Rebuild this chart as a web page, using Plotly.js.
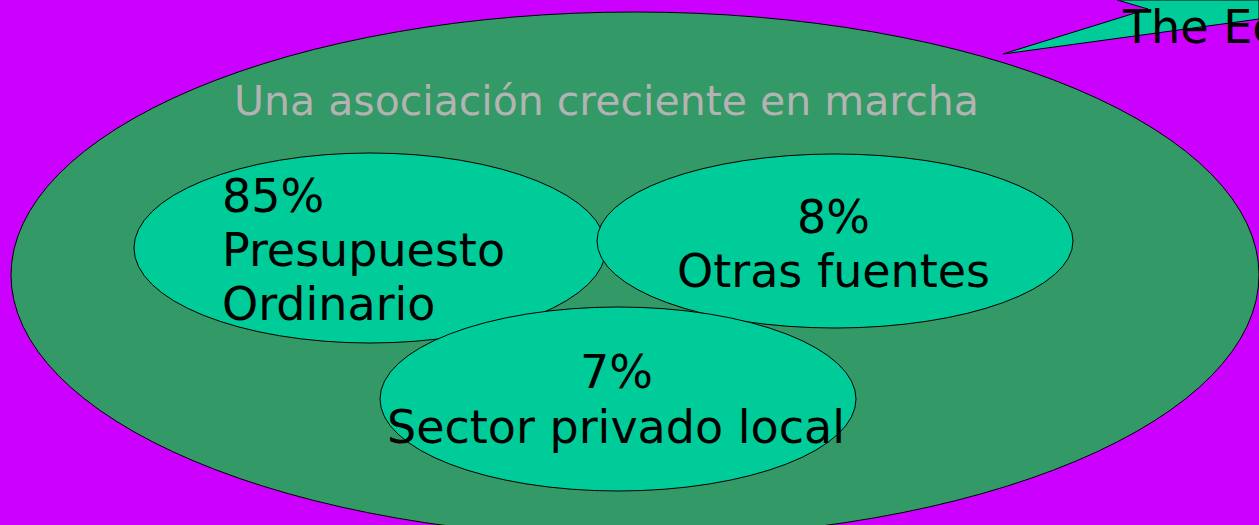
<!DOCTYPE html>
<html>
<head>
<meta charset="utf-8">
<script src="https://cdn.plot.ly/plotly-3.0.1.min.js"></script>
<style>
  html, body { margin: 0; padding: 0; background: #cc00ff; overflow: hidden; }
  #chart { width: 1259px; height: 525px; }
</style>
</head>
<body>
<div id="chart"></div>
<script>
// ---- content (values and texts) ----
const titleText = "Una asociación creciente en marcha";
const shares = [85, 8, 7];                       // percentages
const sourceLines = [
  ["Presupuesto", "Ordinario"],
  ["Otras fuentes"],
  ["Sector privado local"]
];
const calloutText = "The Ec";

// ---- layout geometry (pixel coordinates on a 1259x525 canvas, y down) ----
const W = 1259, H = 525;
const outer = { cx: 635, cy: 275, rx: 624, ry: 263 };
const bubbles = [
  { cx: 370, cy: 248, rx: 236, ry: 95 },
  { cx: 835, cy: 241, rx: 238, ry: 87 },
  { cx: 618, cy: 399, rx: 238, ry: 92 }
];
const textPos = [
  { x: 220, anchor: "left",   base: 212, gap: 54 },
  { x: 833, anchor: "center", base: 233, gap: 54 },
  { x: 616, anchor: "center", base: 388, gap: 55 }
];
const calloutPath = "M 1003 54 L 1148 9 L 1117 0 L 1259 0 L 1259 19 Z";

// ---- styles ----
const BG = "#cc00ff", DARK = "#339966", LIGHT = "#00cc99";
const FONT = "DejaVu Sans, Verdana, sans-serif";
const FS = 46;

function ell(e, fill) {
  return {
    type: "circle", xref: "x", yref: "y", layer: "above",
    x0: e.cx - e.rx, x1: e.cx + e.rx, y0: e.cy - e.ry, y1: e.cy + e.ry,
    fillcolor: fill, line: { color: "#000000", width: 1 }
  };
}

const shapes = [ell(outer, DARK)];
bubbles.forEach(b => shapes.push(ell(b, LIGHT)));
shapes.push({ type: "path", xref: "x", yref: "y", path: calloutPath,
  fillcolor: LIGHT, line: { color: "#000000", width: 1 } });

function textAt(x, baseline, txt, anchor, size, color) {
  return {
    x: x, y: baseline - 0.35 * size, xref: "x", yref: "y",
    text: txt, showarrow: false, xanchor: anchor, yanchor: "middle",
    font: { family: FONT, size: size, color: color }
  };
}

const annotations = [];
annotations.push(textAt(232, 115, titleText, "left", 41, "#b3b3b3"));
shares.forEach((v, i) => {
  const p = textPos[i];
  const lines = [v + "%"].concat(sourceLines[i]);
  lines.forEach((ln, k) => {
    annotations.push(textAt(p.x, p.base + k * p.gap, ln, p.anchor, FS, "#000000"));
  });
});
annotations.push(textAt(1120, 43, calloutText, "left", FS, "#000000"));

const layout = {
  width: W, height: H,
  margin: { l: 0, r: 0, t: 0, b: 0, pad: 0 },
  paper_bgcolor: BG, plot_bgcolor: BG,
  showlegend: false,
  xaxis: { range: [0, W], visible: false, fixedrange: true },
  yaxis: { range: [H, 0], visible: false, fixedrange: true },
  shapes: shapes,
  annotations: annotations
};

const data = [{ type: "scatter", x: [], y: [], mode: "markers", hoverinfo: "skip" }];

Plotly.newPlot("chart", data, layout, { staticPlot: true, displayModeBar: false });
</script>
</body>
</html>
